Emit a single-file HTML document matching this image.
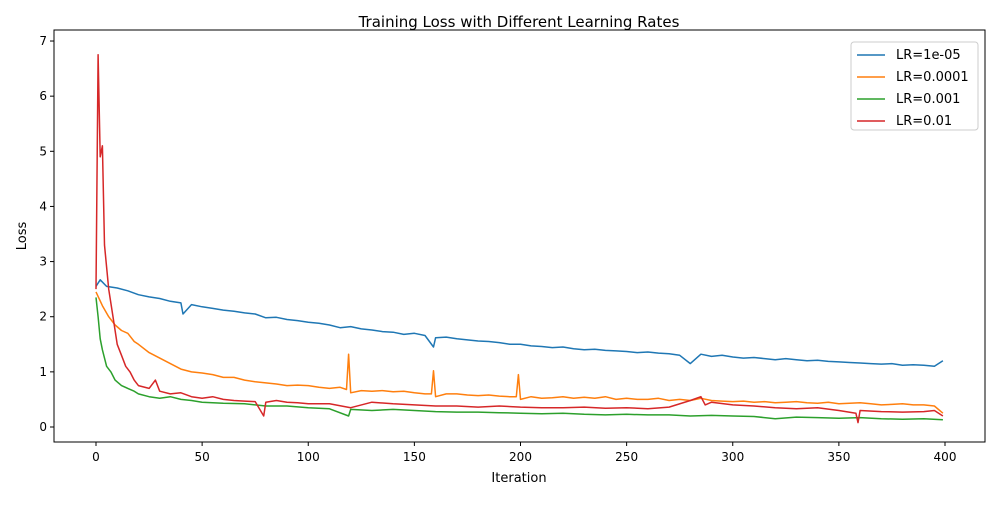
<!DOCTYPE html>
<html><head><meta charset="utf-8"><style>
body{margin:0;background:#fff;font-family:"Liberation Sans","DejaVu Sans",sans-serif}
svg text{font-family:"DejaVu Sans","Liberation Sans",sans-serif}
</style></head><body>
<svg id="chart" width="1000" height="500"></svg>
<script>
const iterA=[0,2,5,10,15,20,25,30,35,40,41,45,50,55,60,65,70,75,80,85,90,95,100,105,110,115,120,125,130,135,140,145,150,155,159,160,165,170,175,180,185,190,195,200,205,210,215,220,225,230,235,240,245,250,255,260,265,270,275,280,285,290,295,300,305,310,315,320,325,330,335,340,345,350,355,360,365,370,375,380,385,390,395,399];
const lossA=[2.55,2.67,2.55,2.52,2.47,2.4,2.36,2.33,2.28,2.25,2.05,2.22,2.18,2.15,2.12,2.1,2.07,2.05,1.98,1.99,1.95,1.93,1.9,1.88,1.85,1.8,1.82,1.78,1.76,1.73,1.72,1.68,1.7,1.66,1.45,1.62,1.63,1.6,1.58,1.56,1.55,1.53,1.5,1.5,1.47,1.46,1.44,1.45,1.42,1.4,1.41,1.39,1.38,1.37,1.35,1.36,1.34,1.33,1.3,1.15,1.32,1.28,1.3,1.27,1.25,1.26,1.24,1.22,1.24,1.22,1.2,1.21,1.19,1.18,1.17,1.16,1.15,1.14,1.15,1.12,1.13,1.12,1.1,1.2];
const iterB=[0,3,6,9,12,15,18,20,25,30,35,40,45,50,55,60,65,70,75,80,85,90,95,100,105,110,115,118,119,120,125,130,135,140,145,150,155,158,159,160,165,170,175,180,185,190,195,198,199,200,205,210,215,220,225,230,235,240,245,250,255,260,265,270,275,280,285,290,295,300,305,310,315,320,325,330,335,340,345,350,355,360,365,370,375,380,385,390,395,399];
const lossB=[2.45,2.2,2.0,1.85,1.75,1.7,1.55,1.5,1.35,1.25,1.15,1.05,1.0,0.98,0.95,0.9,0.9,0.85,0.82,0.8,0.78,0.75,0.76,0.75,0.72,0.7,0.72,0.68,1.32,0.62,0.66,0.65,0.66,0.64,0.65,0.62,0.6,0.6,1.02,0.55,0.6,0.6,0.58,0.57,0.58,0.56,0.55,0.55,0.95,0.5,0.55,0.52,0.53,0.55,0.52,0.54,0.52,0.55,0.5,0.52,0.5,0.5,0.52,0.48,0.5,0.48,0.52,0.48,0.47,0.46,0.47,0.45,0.46,0.44,0.45,0.46,0.44,0.43,0.45,0.42,0.43,0.44,0.42,0.4,0.41,0.42,0.4,0.4,0.38,0.25];
const iterC=[0,1,2,3,5,7,9,12,15,18,20,25,30,35,40,45,50,60,70,80,90,100,110,119,120,130,140,150,160,170,180,190,200,210,220,230,240,250,260,270,280,290,300,310,320,330,340,350,360,370,380,390,399];
const lossC=[2.35,2.0,1.6,1.4,1.1,1.0,0.85,0.75,0.7,0.65,0.6,0.55,0.52,0.55,0.5,0.48,0.45,0.43,0.42,0.38,0.38,0.35,0.33,0.2,0.32,0.3,0.32,0.3,0.28,0.27,0.27,0.26,0.25,0.24,0.25,0.23,0.22,0.23,0.22,0.22,0.2,0.21,0.2,0.19,0.15,0.18,0.17,0.16,0.17,0.15,0.14,0.15,0.13];
const iterD=[0,1,2,3,4,5,6,8,10,12,14,16,18,20,25,28,30,35,40,45,50,55,60,65,70,75,79,80,85,90,95,100,110,120,130,140,150,160,170,180,190,200,210,220,230,240,250,260,270,280,285,287,290,300,310,320,330,340,350,358,359,360,370,380,390,395,399];
const lossD=[2.5,6.75,4.9,5.1,3.3,2.9,2.5,2.0,1.5,1.3,1.1,1.0,0.85,0.75,0.7,0.85,0.65,0.6,0.62,0.55,0.52,0.55,0.5,0.48,0.47,0.46,0.2,0.45,0.48,0.45,0.44,0.42,0.42,0.35,0.45,0.42,0.4,0.38,0.38,0.36,0.38,0.36,0.35,0.35,0.36,0.34,0.35,0.33,0.36,0.48,0.55,0.4,0.45,0.4,0.38,0.35,0.33,0.35,0.3,0.25,0.08,0.3,0.28,0.27,0.28,0.3,0.2];
const seriesNames=["LR=1e-05","LR=0.0001","LR=0.001","LR=0.01"];
const xTicks=[0,50,100,150,200,250,300,350,400];
const yTicks=[0,1,2,3,4,5,6,7];
const colors=["#1f77b4","#ff7f0e","#2ca02c","#d62728"];
const L=54,R=985,T=30,B=442;
const xs=v=>96+(v)*849/400;
const ys=v=>427-v*55.14;
const svg=document.getElementById('chart');
const NS="http://www.w3.org/2000/svg";
function mk(tag,attrs,parent){const e=document.createElementNS(NS,tag);for(const k in attrs)e.setAttribute(k,attrs[k]);(parent||svg).appendChild(e);return e;}
const title=mk('text',{x:519,y:27,'text-anchor':'middle','font-size':15});
title.textContent="Training Loss with Different Learning Rates";


xTicks.forEach(t=>{
  const l=mk('line',{x1:xs(t),x2:xs(t),y1:B,y2:B+4,stroke:'#000'});
  
  
  const tx=mk('text',{x:xs(t),y:B+19,'text-anchor':'middle','font-size':12});
  tx.textContent=t;
  
  
});
yTicks.forEach(t=>{
  const l=mk('line',{x1:L-4,x2:L,y1:ys(t),y2:ys(t),stroke:'#000'});
  
  
  const tx=mk('text',{x:L-7,y:ys(t)+4,'text-anchor':'end','font-size':12});
  tx.textContent=t;
  
  
});
const xl=mk('text',{x:519,y:482,'text-anchor':'middle','font-size':13});
xl.textContent="Iteration";


const yl=mk('text',{x:26,y:236,'text-anchor':'middle','font-size':13,transform:'rotate(-90 26 236)'});
yl.textContent="Loss";


const data=[[iterA,lossA],[iterB,lossB],[iterC,lossC],[iterD,lossD]];
data.forEach((d,i)=>{
  const pts=d[0].map((x,j)=>xs(x).toFixed(1)+','+ys(d[1][j]).toFixed(1)).join(' ');
  const p=mk('polyline',{points:pts,fill:'none',stroke:colors[i],'stroke-width':1.5,'stroke-linejoin':'round'});
  
  
});
const frame=mk('rect',{x:L,y:T,width:R-L,height:B-T,fill:'none',stroke:'#000','stroke-width':1});


const lg=mk('g',{});


mk('rect',{x:851,y:42,width:127,height:88,rx:3,fill:'#fff',stroke:'#ccc'},lg);
seriesNames.forEach((n,i)=>{
  const y=55+i*22;
  const ln=mk('line',{x1:857,x2:885,y1:y,y2:y,stroke:colors[i],'stroke-width':1.5},lg);
  
  
  const t=mk('text',{x:896,y:y+4,'font-size':13},lg);
  t.textContent=n;
  
  
});
</script>
</body></html>
